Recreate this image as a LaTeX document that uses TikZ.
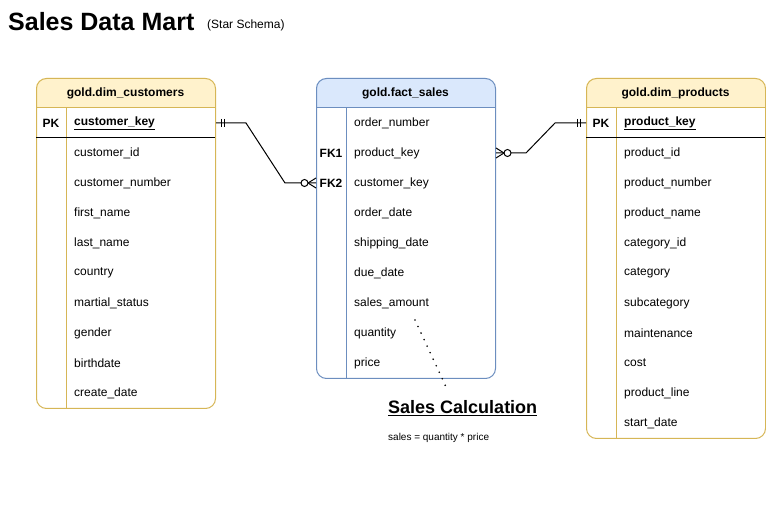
\documentclass[tikz,border=0pt]{standalone}
\usepackage{fontspec}
\setmainfont{Liberation Sans}
\usetikzlibrary{positioning,calc}
\definecolor{dimfill}{HTML}{FFF2CC}
\definecolor{dimline}{HTML}{D6B656}
\definecolor{factfill}{HTML}{DAE8FC}
\definecolor{factline}{HTML}{6C8EBF}

\begin{document}
\begin{tikzpicture}[x=1pt,y=-1pt]
\tikzstyle{every node}+=[inner sep=0pt, font=\fontsize{12}{14}\selectfont]
\tikzstyle{field}=[anchor=west]
\tikzstyle{keytag}=[font=\fontsize{12}{14}\selectfont\bfseries]
\tikzstyle{tablebox}=[draw, line width=1pt, rounded corners=10pt, minimum width=179pt, anchor=north west]
\tikzstyle{relation}=[line width=1pt]
\useasboundingbox (0,0) rectangle (766,510);

% title
\node[anchor=west, font=\fontsize{25}{29}\selectfont\bfseries] (title) at (8,22) {Sales Data Mart};
\node[anchor=west, font=\fontsize{12}{14}\selectfont] (subtitle) at (207,25) {(Star Schema)};

% gold.dim_customers
\fill[dimfill, rounded corners=10pt] (36,108) -- (36,78) -- (215,78) -- (215,108);
\node[tablebox, dimline, minimum height=330pt] (custtab) at (36,78) {};
\draw[dimline, line width=1pt] (36,108) -- (215,108) (66,108) -- (66,408);
\draw[line width=1pt] (36,138) -- (215,138);
\node[keytag] (custhead) at (125.5,93) {gold.dim\_customers};
\node[keytag] (custpk) at (51,123) {PK};
\node[field, keytag] (custkey) at (74,123) {\underline{customer\_key}};
\foreach \f [count=\i] in {customer\_id, customer\_number, first\_name, last\_name,
  country, martial\_status, gender, birthdate, create\_date}
  \node[field] (cust\i) at (74,{123+30*\i}) {\f};

% gold.fact_sales
\fill[factfill, rounded corners=10pt] (316,108) -- (316,78) -- (495,78) -- (495,108);
\node[tablebox, factline, minimum height=300pt] (facttab) at (316,78) {};
\draw[factline, line width=1pt] (316,108) -- (495,108) (346,108) -- (346,378);
\node[keytag] (facthead) at (405.5,93) {gold.fact\_sales};
\foreach \f [count=\i] in {order\_number, product\_key, customer\_key, order\_date,
  shipping\_date, due\_date, sales\_amount, quantity, price}
  \node[field] (fact\i) at (354,{93+30*\i}) {\f};
\node[keytag] (fk1) at (331,153) {FK1};
\node[keytag] (fk2) at (331,183) {FK2};

% gold.dim_products
\fill[dimfill, rounded corners=10pt] (586,108) -- (586,78) -- (765,78) -- (765,108);
\node[tablebox, dimline, minimum height=360pt] (prodtab) at (586,78) {};
\draw[dimline, line width=1pt] (586,108) -- (765,108) (616,108) -- (616,438);
\draw[line width=1pt] (586,138) -- (765,138);
\node[keytag] (prodhead) at (675.5,93) {gold.dim\_products};
\node[keytag] (prodpk) at (601,123) {PK};
\node[field, keytag] (prodkey) at (624,123) {\underline{product\_key}};
\foreach \f [count=\i] in {product\_id, product\_number, product\_name, category\_id,
  category, subcategory, maintenance, cost, product\_line, start\_date}
  \node[field] (prod\i) at (624,{123+30*\i}) {\f};

% relations
\coordinate (custend) at (custtab.east |- custkey);
\coordinate (fk2end) at (facttab.west |- fk2);
\coordinate (fk1end) at (facttab.east |- fk1);
\coordinate (prodend) at (prodtab.west |- prodkey);
\draw[relation] (custend) -- ++(30,0) -- ($(fk2end)+(-31,0)$) -- (fk2end);
\draw[relation] (fk1end) -- ++(30,0) -- ($(prodend)+(-31,0)$) -- (prodend);
% one and only one
\draw[relation] ($(custend)+(5,-4)$) -- ++(0,8) ($(custend)+(8,-4)$) -- ++(0,8);
\draw[relation] ($(prodend)+(-9,-4)$) -- ++(0,8) ($(prodend)+(-6,-4)$) -- ++(0,8);
% zero or many
\draw[relation] ($(fk2end)+(-8,0)$) -- ++(8,-5) ($(fk2end)+(-8,0)$) -- ++(8,5);
\draw[relation, fill=white] ($(fk2end)+(-11.5,0)$) circle (3.5);
\draw[relation] ($(fk1end)+(8,0)$) -- ++(-8,-5) ($(fk1end)+(8,0)$) -- ++(-8,5);
\draw[relation, fill=white] ($(fk1end)+(11.5,0)$) circle (3.5);

% note
\coordinate (notept) at (415,320);
\coordinate (noteend) at (446,387);
\draw[line width=1.8pt, line cap=round, dash pattern=on 0pt off 7.2pt] (notept) -- (noteend);
\node[anchor=west, font=\fontsize{18}{21}\selectfont\bfseries] (calc) at (388,408) {\underline{Sales Calculation}};
\node[anchor=west, font=\fontsize{10}{12}\selectfont] (calcnote) at (388,438) {sales = quantity * price};
\end{tikzpicture}
\end{document}
